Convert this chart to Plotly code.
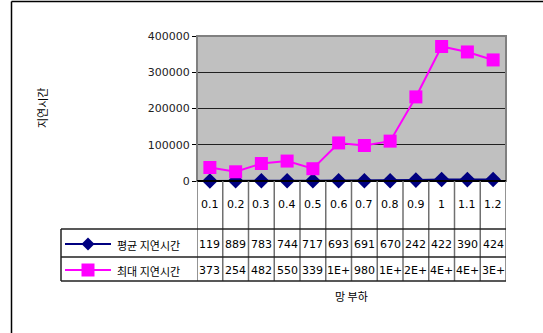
import plotly.graph_objects as go

categories = ["0.1", "0.2", "0.3", "0.4", "0.5", "0.6", "0.7", "0.8", "0.9", "1", "1.1", "1.2"]
avg_delay = [119, 889, 783, 744, 717, 693, 691, 670, 2420, 4220, 3900, 4240]
max_delay = [37300, 25400, 48200, 55000, 33900, 105000, 98000, 110000, 232000, 371000, 356000, 334000]
avg_text = ["119", "889", "783", "744", "717", "693", "691", "670", "242", "422", "390", "424"]
max_text = ["373", "254", "482", "550", "339", "1E+", "980", "1E+", "2E+", "4E+", "4E+", "3E+"]
series_names = ["평균 지연시간", "최대 지연시간"]
y_ticks = [0, 100000, 200000, 300000, 400000]

W, H = 543, 333
L, R, T, B = 197, 506, 36, 181

def px(x):
    return (x - L) / (R - L)

def py(y):
    return (B - y) / (B - T)

NAVY = "#000080"
MAG = "#FF00FF"
NUMFONT = "DejaVu Sans"
KFONT = "Noto Sans CJK KR"

idx = list(range(len(categories)))

fig = go.Figure()
fig.add_trace(go.Scatter(x=idx, y=avg_delay, mode="lines+markers", name=series_names[0],
                         line=dict(color=NAVY, width=2),
                         marker=dict(symbol="diamond", size=12, color=NAVY),
                         cliponaxis=False))
fig.add_trace(go.Scatter(x=idx, y=max_delay, mode="lines+markers", name=series_names[1],
                         line=dict(color=MAG, width=2),
                         marker=dict(symbol="square", size=13, color=MAG),
                         cliponaxis=False))

shapes = []
annotations = []

def ann(x, y, text, xref="paper", font=NUMFONT, xanchor="center", angle=0):
    annotations.append(dict(x=x, y=y, xref=xref, yref="paper", text=text, showarrow=False,
                            xanchor=xanchor, yanchor="middle", textangle=angle,
                            font=dict(family=font, size=11, color="black")))

# outer frame
shapes.append(dict(type="line", xref="paper", yref="paper", x0=px(11.5), x1=px(11.5), y0=py(1.5), y1=py(340), line=dict(color="black", width=1.5)))
shapes.append(dict(type="line", xref="paper", yref="paper", x0=px(11.5), x1=px(550), y0=py(1.5), y1=py(1.5), line=dict(color="black", width=1.5)))

# plot border (gray)
shapes.append(dict(type="rect", xref="paper", yref="paper", x0=0, x1=1, y0=0, y1=1, line=dict(color="#808080", width=2), layer="above"))
# x axis line at zero
shapes.append(dict(type="line", xref="paper", yref="paper", x0=0, x1=1, y0=0, y1=0, line=dict(color="black", width=2), layer="above"))

# table column lines
for i in range(len(categories) + 1):
    shapes.append(dict(type="line", xref="x", yref="paper", x0=i - 0.5, x1=i - 0.5, y0=0, y1=py(281),
                       line=dict(color="#707070", width=1.5)))
# table horizontal lines
for yy in (229, 257, 281):
    shapes.append(dict(type="line", xref="paper", yref="paper", x0=px(61), x1=1, y0=py(yy), y1=py(yy),
                       line=dict(color="#202020", width=1.5)))
shapes.append(dict(type="line", xref="paper", yref="paper", x0=px(61), x1=px(61), y0=py(229), y1=py(281),
                   line=dict(color="#202020", width=1.5)))

# category labels and value rows
for i, c in enumerate(categories):
    ann(i, py(205), c, xref="x")
    ann(i, py(244), avg_text[i], xref="x")
    ann(i, py(270), max_text[i], xref="x")

# legend keys in table
def key(yc, color, sym):
    shapes.append(dict(type="line", xref="paper", yref="paper", x0=px(65), x1=px(111), y0=py(yc), y1=py(yc),
                       line=dict(color=color, width=2)))
    cx = 88
    if sym == "diamond":
        h = 6.5
        path = "M {} {} L {} {} L {} {} L {} {} Z".format(px(cx), py(yc - h), px(cx + h), py(yc),
                                                       px(cx), py(yc + h), px(cx - h), py(yc))
        shapes.append(dict(type="path", xref="paper", yref="paper", path=path, fillcolor=color,
                           line=dict(color=color, width=0)))
    else:
        h = 6.5
        shapes.append(dict(type="rect", xref="paper", yref="paper", x0=px(cx - h), x1=px(cx + h),
                           y0=py(yc + h), y1=py(yc - h), fillcolor=color, line=dict(color=color, width=0)))

key(244, NAVY, "diamond")
key(270, MAG, "square")
ann(px(115), py(245), series_names[0], font=KFONT, xanchor="left")
ann(px(115), py(271), series_names[1], font=KFONT, xanchor="left")

# axis titles
ann(px(351), py(296), "망 부하", font=KFONT)
ann(px(42), py(108), "지연시간", font=KFONT, angle=-90)

fig.update_layout(
    width=W, height=H,
    margin=dict(l=L, r=W - R, t=T, b=H - B, pad=0),
    paper_bgcolor="white",
    plot_bgcolor="#C0C0C0",
    showlegend=False,
    shapes=shapes,
    annotations=annotations,
    xaxis=dict(range=[-0.5, len(categories) - 0.5], showticklabels=False, showgrid=False,
               zeroline=False, showline=False, ticks=""),
    yaxis=dict(range=[0, 400000], tickvals=y_ticks, tickformat="d", showgrid=True,
               gridcolor="#202020", gridwidth=1, zeroline=False, showline=False,
               ticks="outside", ticklen=4, tickcolor="black",
               tickfont=dict(family=NUMFONT, size=11, color="#222222")),
)

fig.write_html("out.html")
